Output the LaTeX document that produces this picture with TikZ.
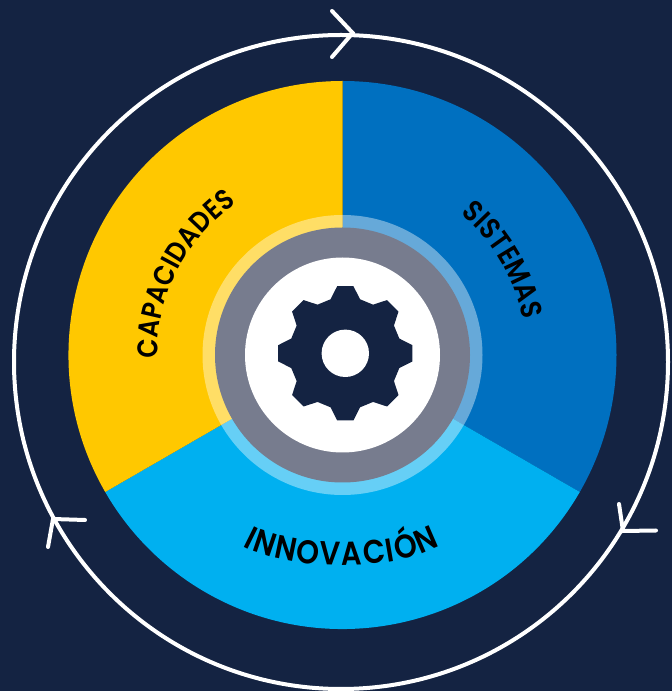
\documentclass[tikz,border=0pt]{standalone}
\usepackage{fontspec}
\setmainfont{Poppins}[FakeStretch=0.88,BoldFont={Poppins SemiBold}]
\usetikzlibrary{decorations.text,calc}
\definecolor{navy}{HTML}{142342}
\definecolor{capyellow}{HTML}{FFC800}
\definecolor{sysblue}{HTML}{0070C0}
\definecolor{inncyan}{HTML}{00B0F0}
\definecolor{hubgray}{HTML}{777C8E}
\tikzset{
  x=1pt,y=1pt,
  chev/.style={draw=white,line width=4pt,line cap=round,line join=miter},
  curved/.style={decorate,decoration={text along path,text align={fit to path},text={#1}}}
}
\begin{document}
\begin{tikzpicture}
\useasboundingbox (0,0) rectangle (672,691);
\fill[navy] (0,0) rectangle (672,691);
\coordinate (c) at (342.5,336);
\coordinate (ringc) at (341,329);
\coordinate (g) at (345.3,337.7);
% sectors
\fill[sysblue] (c) -- ++(90:274) arc[start angle=90,end angle=-30,radius=274] -- cycle;
\fill[inncyan] (c) -- ++(-30:274) arc[start angle=-30,end angle=-150,radius=274] -- cycle;
\fill[capyellow] (c) -- ++(210:274) arc[start angle=210,end angle=90,radius=274] -- cycle;
% outer ring and arrow heads
\draw[white,line width=4pt] (ringc) circle[radius=327];
\coordinate (t1) at (352.7,658); \coordinate (t1a) at (332,680); \coordinate (t1b) at (332,634);
\coordinate (t2) at (623,160); \coordinate (t2a) at (619,187); \coordinate (t2b) at (656,160.5);
\coordinate (t3) at (53,172); \coordinate (t3a) at (85,171); \coordinate (t3b) at (48,144);
\draw[chev] (t1a) -- (t1) -- (t1b);
\draw[chev] (t2a) -- (t2) -- (t2b);
\draw[chev] (t3a) -- (t3) -- (t3b);
% hub
\fill[white,opacity=.4] (c) circle[radius=140];
\fill[hubgray] (c) circle[radius=127.5];
\fill[white] (c) circle[radius=97.5];
\fill[navy] ($(g)+(105.3:56)$)
  \foreach \a in {90,45,0,-45,-90,-135,-180,-225} {
    -- ($(g)+(\a+15.3:56)$) -- ($(g)+(\a+6.9:67.6)$) -- ($(g)+(\a-6.9:67.6)$) -- ($(g)+(\a-15.3:56)$)
  } -- cycle;
\fill[white] (g) circle[radius=23.7];
% labels
\path[curved={|\bfseries\fontsize{28.5}{28.5}\selectfont|CAPACIDADES}]
  (c) ++(181:185) arc[start angle=181,end angle=125,radius=185];
\path[curved={|\bfseries\fontsize{29.5}{29.5}\selectfont|SISTEMAS}]
  (c) ++(50:184) arc[start angle=50,end angle=11,radius=184];
\coordinate (ia) at (243,145);
\coordinate (ib) at (440,145);
\path[curved={|\bfseries\fontsize{33}{33}\selectfont|INNOVACIÓN}]
  (ia) .. controls (290,119) and (395,119) .. (ib);
\end{tikzpicture}
\end{document}
